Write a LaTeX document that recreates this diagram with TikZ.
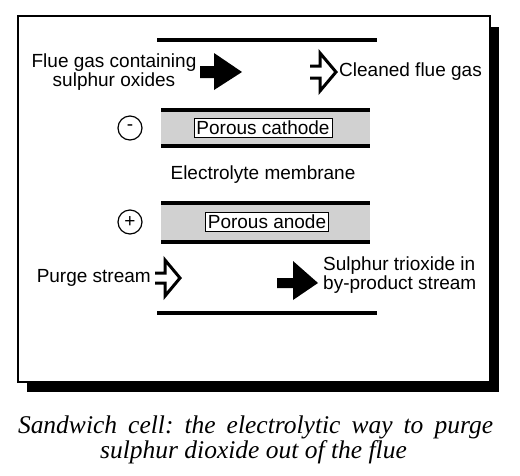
\documentclass[tikz,border=0pt]{standalone}
\usepackage{fontspec}
\setmainfont{Liberation Sans}
\newfontfamily\capfont{Liberation Serif}
\frenchspacing

\begin{document}
\begin{tikzpicture}[x=1pt,y=-1pt,
    lbl/.style={font=\fontsize{19}{19}\selectfont,inner sep=0pt},
    bar/.style={line width=3.5pt},
    band/.style={fill=black!18},
    tag/.style={lbl,draw,fill=white,line width=0.8pt,inner sep=2.5pt},
    pole/.style={draw,circle,line width=1.2pt,minimum size=24pt,inner sep=0pt},
    openarrow/.style={line width=3pt,line join=miter},
    capline/.style={font=\capfont\itshape\fontsize{25.5}{25}\selectfont,inner sep=0pt,anchor=base}]
   \useasboundingbox (0,0) rectangle (520,475);
   % frame with its shadow
   \fill (27,27) rectangle (499,392);
   \filldraw[fill=white,draw=black,line width=1.5pt] (18,16) rectangle (490,382);
   % walls and electrodes
   \draw[bar] (157,40) -- (377,40);
   \fill[band] (161,110) rectangle (370,146);
   \draw[bar] (161,110) -- (370,110);
   \draw[bar] (161,146) -- (370,146);
   \fill[band] (161,203) rectangle (370,242);
   \draw[bar] (161,203) -- (370,203);
   \draw[bar] (161,242) -- (370,242);
   \draw[bar] (157,313) -- (377,313);
   % flow arrows
   \fill (200,66) -- (214,66) -- (214,53) -- (242,72) -- (214,90) -- (214,78) -- (200,78) -- cycle;
   \draw[openarrow] (310,66) -- (320,66) -- (320,53) -- (336,72) -- (320,91) -- (320,78) -- (310,78);
   \draw[openarrow] (155,273) -- (165,273) -- (165,260) -- (180,278) -- (165,296) -- (165,283) -- (155,283);
   \fill (277,278) -- (293,278) -- (293,261) -- (318,283) -- (293,300) -- (293,288) -- (277,288) -- cycle;
   % labels
   \node[lbl,align=center] (fluegas) at (114,72) {Flue gas containing\\sulphur oxides};
   \node[lbl,anchor=west]  (cleaned) at (339,72) {Cleaned flue gas};
   \node[tag]  (cathode)  at (263,128) {Porous cathode};
   \node[pole] (minus)    at (130,128) {\fontsize{19}{19}\selectfont -};
   \node[lbl]  (membrane) at (263,175) {Electrolyte membrane};
   \node[tag]  (anode)    at (267,222) {Porous anode};
   \node[pole] (plus)     at (130,222) {\fontsize{19}{19}\selectfont +};
   \node[lbl,anchor=east] (purge) at (151,278) {Purge stream};
   \node[lbl,anchor=west,align=left] (trioxide) at (323,275) {Sulphur trioxide in\\by-product stream};
   % caption
   \node[capline] (caption1) at (255.5,433) {\makebox[475pt][s]{Sandwich cell: the electrolytic way to purge}};
   \node[capline] (caption2) at (253.5,458) {sulphur dioxide out of the flue};
  \end{tikzpicture}
\end{document}
